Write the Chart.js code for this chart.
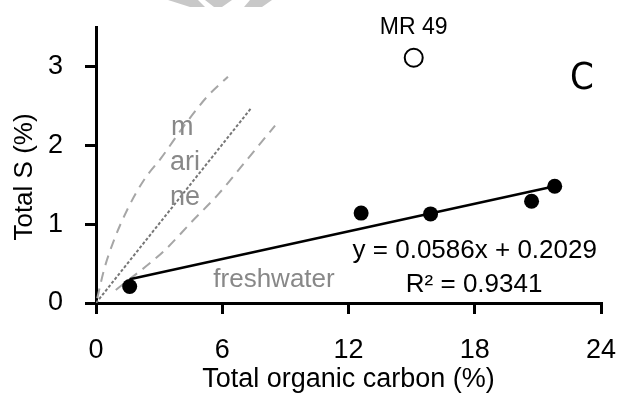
<!DOCTYPE html>
<html>
<head>
<meta charset="utf-8">
<script src="https://cdn.jsdelivr.net/npm/chart.js@4"></script>
<style>
html, body { margin: 0; padding: 0; background: #fff; }
</style>
</head>
<body>
<canvas id="sulfurChart" width="620" height="396"></canvas>
<script>
// axis ticks
const xTicks = [0, 6, 12, 18, 24];
const yTicks = [0, 1, 2, 3];

// samples (TOC %, total S %)
const toc = [1.6, 12.6, 15.9, 20.7, 21.8];
const totalS = [0.21, 1.14, 1.13, 1.29, 1.48];

// outlier sample MR 49
const outlierToc = [15.1];
const outlierS = [3.11];

// regression line ends
const trendToc = [1.6, 21.8];
const trendS = [0.30, 1.48];

// normal marine field (dashed bounds + dotted mean)
const marineUpperToc = [0.06, 0.38, 0.86, 1.48, 2.28, 3.1, 4.14, 5.26, 6.27];
const marineUpperS = [0.06, 0.42, 0.80, 1.18, 1.56, 1.84, 2.23, 2.61, 2.87];
const marineMeanToc = [0, 7.4];
const marineMeanS = [0, 2.48];
const marineLowerToc = [0.94, 3.23, 4.55, 5.85, 7.03, 8.51];
const marineLowerS = [0.165, 0.66, 1.03, 1.39, 1.77, 2.25];

const FONT = '"Liberation Sans", Arial, sans-serif';

function pts(xs, ys) {
    return xs.map((x, i) => ({ x: x, y: ys[i] }));
}

// labels drawn on top of the plot
const labelPlugin = {
    id: 'labels',
    afterDraw(chart) {
        const ctx = chart.ctx;
        const xs = chart.scales.x;
        const ys = chart.scales.y;
        const px = v => xs.getPixelForValue(v);
        const py = v => ys.getPixelForValue(v);
        ctx.save();
        ctx.textAlign = 'center';
        ctx.textBaseline = 'middle';

        ctx.fillStyle = '#888';
        ctx.font = '27px ' + FONT;
        ctx.fillText('m', px(4.1), py(2.23));
        ctx.fillText('ari', px(4.23), py(1.78));
        ctx.fillText('ne', px(4.23), py(1.34));
        ctx.font = '26px ' + FONT;
        ctx.fillText('freshwater', px(8.46), py(0.29));

        ctx.fillStyle = '#000';
        ctx.font = '23px ' + FONT;
        ctx.fillText('MR 49', px(outlierToc[0]), py(outlierS[0]) - 30);
        ctx.font = '26px ' + FONT;
        ctx.fillText('y = 0.0586x + 0.2029', px(18.0), py(0.66));
        ctx.fillText('R² = 0.9341', px(17.97), py(0.23));
        ctx.font = '38px "Liberation Sans Narrow", "DejaVu Sans Condensed", sans-serif';
        ctx.fillText('C', px(23.1), py(2.84));

        // y axis title
        ctx.font = '26px ' + FONT;
        ctx.translate(25, 177);
        ctx.rotate(-Math.PI / 2);
        ctx.fillText('Total S (%)', 0, 0);
        ctx.restore();

        // watermark scraps along the top edge
        ctx.save();
        ctx.fillStyle = '#c8c8c8';
        [[168, 198, 205, 190], [205, 232, 222, 214], [250, 272, 262, 244]].forEach(p => {
            ctx.beginPath();
            ctx.moveTo(p[0], 0);
            ctx.lineTo(p[1], 0);
            ctx.lineTo(p[2], 7);
            ctx.lineTo(p[3], 7);
            ctx.closePath();
            ctx.fill();
        });
        ctx.restore();
    }
};

const ctx = document.getElementById('sulfurChart').getContext('2d');
new Chart(ctx, {
    type: 'scatter',
    data: {
        datasets: [
            {
                label: 'samples',
                data: pts(toc, totalS),
                pointRadius: 7.5,
                pointBackgroundColor: '#000',
                pointBorderWidth: 0
            },
            {
                label: 'MR 49',
                data: pts(outlierToc, outlierS),
                pointRadius: 9,
                pointBackgroundColor: '#fff',
                pointBorderColor: '#000',
                pointBorderWidth: 2
            },
            {
                label: 'trend',
                data: pts(trendToc, trendS),
                showLine: true,
                borderColor: '#000',
                borderWidth: 2.5,
                pointRadius: 0
            },
            {
                label: 'marine upper',
                data: pts(marineUpperToc, marineUpperS),
                showLine: true,
                borderColor: '#a6a6a6',
                borderWidth: 2,
                borderDash: [10, 7],
                cubicInterpolationMode: 'monotone',
                pointRadius: 0
            },
            {
                label: 'marine mean',
                data: pts(marineMeanToc, marineMeanS),
                showLine: true,
                borderColor: '#777',
                borderWidth: 2,
                borderDash: [3, 2],
                pointRadius: 0
            },
            {
                label: 'marine lower',
                data: pts(marineLowerToc, marineLowerS),
                showLine: true,
                borderColor: '#a6a6a6',
                borderWidth: 2,
                borderDash: [10, 7],
                cubicInterpolationMode: 'monotone',
                pointRadius: 0
            }
        ]
    },
    options: {
        responsive: false,
        animation: false,
        devicePixelRatio: 1,
        layout: { padding: { top: 27, right: 19, left: 0, bottom: 0 } },
        plugins: {
            legend: { display: false },
            tooltip: { enabled: false }
        },
        scales: {
            x: {
                type: 'linear',
                min: 0,
                max: 24,
                afterBuildTicks: s => { s.ticks = xTicks.map(v => ({ value: v })); },
                afterFit: s => { s.height = 93; s.paddingLeft = 0; s.paddingRight = 0; },
                border: { display: true, color: '#000', width: 3 },
                grid: { drawOnChartArea: false, drawTicks: true, tickLength: 11, color: '#000', lineWidth: 3 },
                ticks: { color: '#000', font: { size: 27, family: FONT }, padding: 20, maxRotation: 0 },
                title: {
                    display: true,
                    text: 'Total organic carbon (%)',
                    color: '#000',
                    font: { size: 27, family: FONT },
                    padding: 0
                }
            },
            y: {
                type: 'linear',
                min: 0,
                max: 3.5,
                afterBuildTicks: s => { s.ticks = yTicks.map(v => ({ value: v })); },
                afterFit: s => { s.width = 96; s.paddingTop = 0; s.paddingBottom = 0; },
                border: { display: true, color: '#000', width: 3 },
                grid: { drawOnChartArea: false, drawTicks: true, tickLength: 11, color: '#000', lineWidth: 3 },
                ticks: { color: '#000', font: { size: 27, family: FONT }, padding: 22 }
            }
        }
    },
    plugins: [labelPlugin]
});
</script>
</body>
</html>
